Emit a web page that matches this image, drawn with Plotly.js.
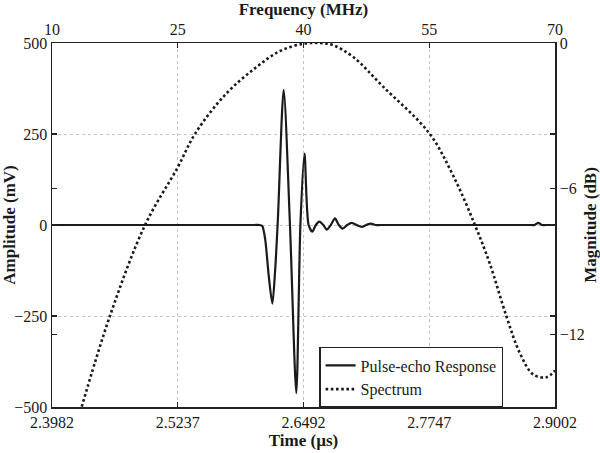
<!DOCTYPE html>
<html>
<head>
<meta charset="utf-8">
<script src="https://cdn.plot.ly/plotly-3.0.1.min.js"></script>
<style>html,body{margin:0;padding:0;background:#fff;}#chart{width:600px;height:453px;}</style>
</head>
<body>
<div id="chart"></div>
<script>
// Pulse-echo response (time in µs, amplitude in mV)
var timeUs = [2.3982, 2.5000, 2.6000, 2.6050, 2.6080, 2.6110, 2.6145, 2.6181, 2.6210, 2.6237, 2.6294, 2.6357, 2.6420, 2.6461, 2.6502, 2.6543, 2.6580, 2.6615, 2.6650, 2.6690, 2.6724, 2.6765, 2.6806, 2.6845, 2.6883, 2.6928, 2.6973, 2.7023, 2.7073, 2.7118, 2.7163, 2.7210, 2.7260, 2.8000, 2.8760, 2.8800, 2.8835, 2.8870, 2.8910, 2.9002];
var amplitudeMv = [0, 0, 0, 0, -3, -40, -140, -216, -120, 20, 371, 0, -462, 0, 196, 0, -18, 0, 9, 0, -13, 0, 18, 0, -10, 0, 6, 0, -5, 0, 4, 0, 0, 0, 0, 0, 6, 0, 0, 0];

// Spectrum (frequency in MHz, magnitude in dB)
var freqMHz = [13.2, 16.9, 21.1, 25.0, 27.1, 30.8, 34.4, 37.2, 40.0, 42.0, 43.6, 45.9, 49.5, 55.0, 57.9, 60.45, 62.2, 64.2, 65.8, 67.4, 69.0, 70.0];
var magnitudeDb = [-15.4, -11.26, -7.5, -5.12, -3.72, -2.08, -0.99, -0.33, -0.03, 0, -0.1, -0.57, -1.8, -3.72, -5.5, -7.5, -9.07, -11.26, -12.77, -13.66, -13.77, -13.5];

// Tick labels
var timeTicks = [2.3982, 2.5237, 2.6492, 2.7747, 2.9002];
var timeTickText = ['2.3982', '2.5237', '2.6492', '2.7747', '2.9002'];
var freqTicks = [10, 25, 40, 55, 70];
var ampTicks = [-500, -250, 0, 250, 500];
var dbTicks = [-12, -6, 0];

var serif = 'Liberation Serif, Times New Roman, serif';
var txt = '#1a1a1a';

var traces = [
  {
    x: timeUs, y: amplitudeMv, type: 'scatter', mode: 'lines',
    name: 'Pulse-echo Response',
    line: {color: '#1a1a1a', width: 2.2, shape: 'spline', smoothing: 0.75},
    xaxis: 'x', yaxis: 'y'
  },
  {
    x: freqMHz, y: magnitudeDb, type: 'scatter', mode: 'lines',
    name: 'Spectrum',
    line: {color: '#1a1a1a', width: 2.6, dash: '2.6px,2.6px', shape: 'spline', smoothing: 1},
    xaxis: 'x2', yaxis: 'y2'
  }
];

var axisCommon = {
  showline: true, linecolor: '#222', linewidth: 1.5,
  ticks: 'inside', ticklen: 5, tickwidth: 1.2, tickcolor: '#222',
  tickfont: {family: serif, size: 16, color: txt},
  zeroline: false
};

var layout = {
  width: 600, height: 453,
  margin: {l: 52, r: 45, t: 43, b: 46},
  paper_bgcolor: '#fff', plot_bgcolor: '#fff',
  showlegend: true,
  legend: {
    x: 0.531, y: 0.165, xanchor: 'left', yanchor: 'top',
    bgcolor: '#fff', bordercolor: '#222', borderwidth: 1.5,
    font: {family: serif, size: 16, color: txt},
    tracegroupgap: 0, itemwidth: 30
  },
  xaxis: Object.assign({}, axisCommon, {
    range: [2.3982, 2.9002], tickmode: 'array', tickvals: timeTicks, ticktext: timeTickText,
    showgrid: true, gridcolor: '#c4c4c4', griddash: 'dot', gridwidth: 1,
    mirror: false,
    title: {text: '<b>Time (µs)</b>', font: {family: serif, size: 17, color: txt}, standoff: 2}
  }),
  xaxis2: Object.assign({}, axisCommon, {
    range: [10, 70], tickmode: 'array', tickvals: freqTicks,
    overlaying: 'x', side: 'top', anchor: 'y', showgrid: false,
    title: {text: '<b>Frequency (MHz)</b>', font: {family: serif, size: 17, color: txt}, standoff: 2}
  }),
  yaxis: Object.assign({}, axisCommon, {
    range: [-500, 500], tickmode: 'array', tickvals: ampTicks,
    showgrid: true, gridcolor: '#c4c4c4', griddash: 'dot', gridwidth: 1,
    mirror: 'ticks',
    title: {text: '<b>Amplitude (mV)</b>', font: {family: serif, size: 17, color: txt}, standoff: 2}
  }),
  yaxis2: Object.assign({}, axisCommon, {
    range: [-15, 0], tickmode: 'array', tickvals: dbTicks,
    overlaying: 'y', side: 'right', anchor: 'x', showgrid: false,
    mirror: 'ticks',
    title: {text: '<b>Magnitude (dB)</b>', font: {family: serif, size: 17, color: txt}, standoff: 4}
  })
};

Plotly.newPlot('chart', traces, layout, {displayModeBar: false, staticPlot: true});
</script>
</body>
</html>
